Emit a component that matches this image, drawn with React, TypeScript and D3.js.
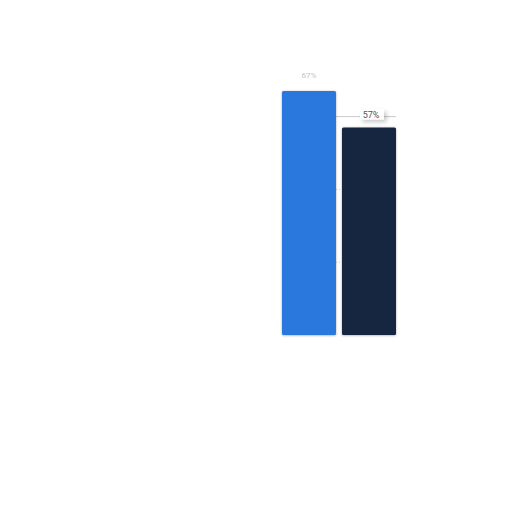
import React from "react";
import * as d3 from "d3";

const categories = ["A", "B"];
const values = [67, 57];
const labels = ["67%", "57%"];
const gridTicks = [20, 40, 60];
const colors = ["#2a77de", "#13283f"];

const width = 512;
const height = 512;

export default function App() {
  const x = d3.scaleBand<string>().domain(categories).range([282, 396]).paddingInner(0.1).paddingOuter(0);
  const y = d3.scaleLinear().domain([0, 100]).range([335, -29]);

  return (
    <svg width={width} height={height} style={{ position: "absolute", left: 0, top: 0, background: "#fff" }}>
      <defs>
        <filter id="shadow" x="-20%" y="-20%" width="140%" height="140%">
          <feDropShadow dx="0" dy="0.5" stdDeviation="1" floodColor="#000" floodOpacity="0.35" />
        </filter>
        <filter id="labelShadow" x="-30%" y="-60%" width="180%" height="260%">
          <feDropShadow dx="2.5" dy="2.5" stdDeviation="2" floodColor="#000" floodOpacity="0.22" />
        </filter>
      </defs>

      {/* grid lines */}
      {gridTicks.map((t) => (
        <line
          key={t}
          x1={x.range()[0]}
          x2={x.range()[1]}
          y1={y(t)}
          y2={y(t)}
          stroke="#bdbdbd"
          strokeWidth={0.8}
          strokeDasharray={t === 60 ? undefined : "1,2"}
        />
      ))}

      {/* bars */}
      {categories.map((c, i) => (
        <rect
          key={c}
          x={x(c)}
          y={y(values[i])}
          width={x.bandwidth()}
          height={y(0) - y(values[i])}
          rx={1.5}
          fill={colors[i]}
          filter="url(#shadow)"
        />
      ))}

      {/* value labels */}
      {categories.map((c, i) => {
        const cx = (x(c) ?? 0) + x.bandwidth() / 2;
        const ty = y(values[i]) - 10;
        if (i === 1) {
          return (
            <g key={c}>
              <rect x={cx - 9} y={ty - 8} width={24} height={10} fill="#fff" filter="url(#labelShadow)" />
              <text x={cx + 2} y={ty} textAnchor="middle" fontFamily="Roboto, sans-serif" fontSize={9} fill="#555">
                {labels[i]}
              </text>
            </g>
          );
        }
        return (
          <text key={c} x={cx} y={ty - 3} textAnchor="middle" fontFamily="Roboto, sans-serif" fontSize={8} fill="#c4c4c4">
            {labels[i]}
          </text>
        );
      })}
    </svg>
  );
}
